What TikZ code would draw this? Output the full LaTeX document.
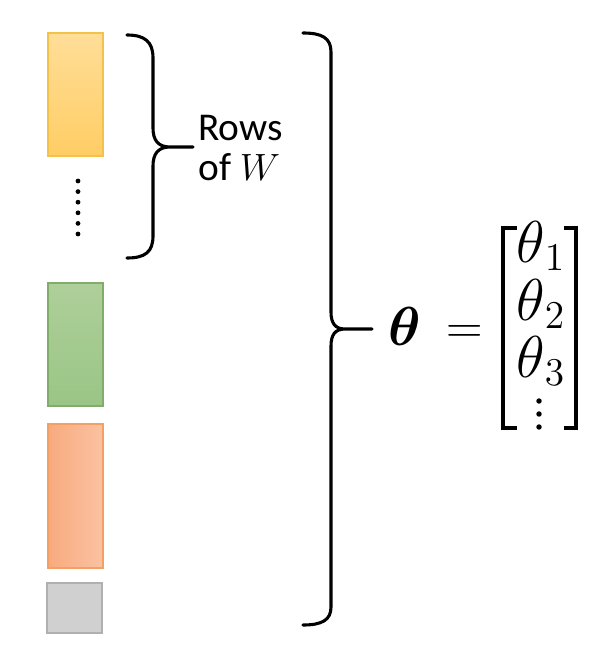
\RequirePackage{fix-cm}
\documentclass[tikz,border=0pt]{standalone}
\usepackage{amsmath}
\usepackage{amssymb}
\usepackage{graphicx}
\usepackage{fontspec}
\setmainfont{Carlito}
\usepackage{tikz}
\usetikzlibrary{positioning}
\definecolor{yellowtop}{RGB}{255,222,152}
\definecolor{yellowbot}{RGB}{255,205,100}
\definecolor{yellowedge}{RGB}{244,194,72}
\definecolor{greentop}{RGB}{174,207,154}
\definecolor{greenbot}{RGB}{154,197,134}
\definecolor{greenedge}{RGB}{128,172,108}
\definecolor{orangeleft}{RGB}{248,170,126}
\definecolor{orangeright}{RGB}{250,194,162}
\definecolor{orangeedge}{RGB}{244,160,100}
\definecolor{greyfill}{RGB}{208,208,208}
\definecolor{greyedge}{RGB}{176,176,176}

\begin{document}
\begin{tikzpicture}[x=0.025cm,y=-0.025cm,
  rowbox/.style={line width=1pt},
  bracepath/.style={line width=2.2pt,line cap=round},
  bracketpath/.style={line width=2.2pt},
  rowtext/.style={font=\fontsize{28}{26}\selectfont,inner sep=0pt,anchor=base west},
  mathtext/.style={font=\fontsize{20}{24}\selectfont,inner sep=0pt,anchor=base},
  entry/.style={mathtext,anchor=base west}]
  \useasboundingbox (0,0) rectangle (611,649);
  % Row blocks
  \draw[rowbox,draw=yellowedge,top color=yellowtop,bottom color=yellowbot] (48,33) rectangle (103,156);
  \draw[rowbox,draw=greenedge,top color=greentop,bottom color=greenbot] (48,283) rectangle (103,406);
  \draw[rowbox,draw=orangeedge,left color=orangeleft,right color=orangeright] (48,424) rectangle (103,568);
  \draw[rowbox,draw=greyedge,fill=greyfill] (47,583) rectangle (102,633);
  \foreach \k in {0,...,5}
    \fill (78,181+10.6*\k) circle (0.6mm);
  % Small brace
  \draw[bracepath] (127,35) .. controls (145,35) and (153,42) .. (153,58) -- (153,128)
    .. controls (153,140) and (158,147) .. (170,147) -- (193,147)
    (170,147) .. controls (158,147) and (153,154) .. (153,166) -- (153,236)
    .. controls (153,252) and (145,258) .. (127,258);
  \node[rowtext,text depth=0pt] (rows) at (198,141) {Rows};
  \node[rowtext,text height=15pt] (ofw) at (198,181) {of {\fontsize{20}{24}\selectfont\scalebox{1.35}{$W$}}};
  % Large brace
  \draw[bracepath] (303,33) .. controls (322,33) and (331,38) .. (331,52) -- (331,312)
    .. controls (331,323) and (335,329) .. (345,329) -- (372,329)
    (345,329) .. controls (335,329) and (331,335) .. (331,346) -- (331,607)
    .. controls (331,620) and (322,625) .. (303,625);
  \node[mathtext] (theta) at (405,345) {\scalebox{1.95}{$\boldsymbol{\theta}$}};
  \node[mathtext] (eq) at (465,343) {\scalebox{1.8}{$=$}};
  % Parameter vector
  \draw[bracketpath] (517,228) -- (503,228) -- (503,428) -- (517,428);
  \draw[bracketpath] (564,228) -- (576,228) -- (576,428) -- (564,428);
  \node[entry] (th1) at (516,262) {\scalebox{2.1}{$\theta$}\scalebox{2.0}{$_1$}};
  \node[entry] (th2) at (516,320) {\scalebox{2.1}{$\theta$}\scalebox{2.0}{$_2$}};
  \node[entry] (th3) at (516,377) {\scalebox{2.1}{$\theta$}\scalebox{2.0}{$_3$}};
  \foreach \y in {401,414,427}
    \fill (539,\y) circle (0.68mm);
\end{tikzpicture}
\end{document}
